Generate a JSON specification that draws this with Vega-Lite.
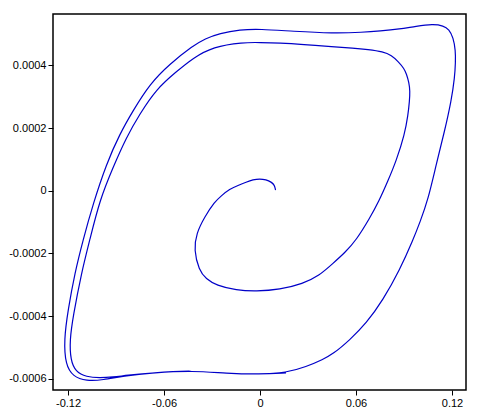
{
  "$schema": "https://vega.github.io/schema/vega-lite/v6.json",
  "width": 413,
  "height": 376,
  "autosize": {"type": "none"},
  "padding": {"left": 53, "top": 14, "right": 15, "bottom": 23},
  "background": "white",
  "config": {
    "view": {"stroke": "black", "strokeWidth": 1.5},
    "axis": {
      "grid": false,
      "domain": false,
      "tickColor": "black",
      "tickSize": 5,
      "tickWidth": 1,
      "labelColor": "black",
      "labelFont": "Liberation Sans",
      "labelFontSize": 11,
      "labelPadding": 2,
      "title": null
    }
  },
  "data": {"values": [
    {"t":1,"x":0.00969,"y":0.0000022},
    {"t":2,"x":0.00906,"y":0.0000182},
    {"t":3,"x":0.00706,"y":0.0000278},
    {"t":4,"x":0.00375,"y":0.0000352},
    {"t":5,"x":-0.00019,"y":0.0000383},
    {"t":6,"x":-0.00438,"y":0.0000352},
    {"t":7,"x":-0.00856,"y":0.0000278},
    {"t":8,"x":-0.01375,"y":0.0000166},
    {"t":9,"x":-0.01894,"y":0.0000054},
    {"t":10,"x":-0.02438,"y":-0.0000169},
    {"t":11,"x":-0.02844,"y":-0.0000361},
    {"t":12,"x":-0.03456,"y":-0.000083},
    {"t":13,"x":-0.03981,"y":-0.000136},
    {"t":14,"x":-0.04131,"y":-0.0001893},
    {"t":15,"x":-0.03819,"y":-0.0002531},
    {"t":16,"x":-0.03375,"y":-0.0002818},
    {"t":17,"x":-0.02731,"y":-0.000302},
    {"t":18,"x":-0.01481,"y":-0.0003179},
    {"t":19,"x":-0.00231,"y":-0.0003211},
    {"t":20,"x":0.01231,"y":-0.0003157},
    {"t":21,"x":0.02688,"y":-0.0002966},
    {"t":22,"x":0.03688,"y":-0.0002716},
    {"t":23,"x":0.04563,"y":-0.0002317},
    {"t":24,"x":0.05313,"y":-0.0001974},
    {"t":25,"x":0.06019,"y":-0.0001574},
    {"t":26,"x":0.06856,"y":-0.000088},
    {"t":27,"x":0.07438,"y":-0.0000329},
    {"t":28,"x":0.08,"y":0.0000319},
    {"t":29,"x":0.08519,"y":0.0000958},
    {"t":30,"x":0.09044,"y":0.000181},
    {"t":31,"x":0.0925,"y":0.0002416},
    {"t":32,"x":0.09344,"y":0.0002867},
    {"t":33,"x":0.09375,"y":0.0003186},
    {"t":34,"x":0.09313,"y":0.0003446},
    {"t":35,"x":0.09156,"y":0.0003724},
    {"t":36,"x":0.09,"y":0.0003904},
    {"t":37,"x":0.08656,"y":0.0004114},
    {"t":38,"x":0.08219,"y":0.0004324},
    {"t":39,"x":0.07688,"y":0.0004437},
    {"t":40,"x":0.0675,"y":0.0004505},
    {"t":41,"x":0.05813,"y":0.0004553},
    {"t":42,"x":0.04563,"y":0.0004597},
    {"t":43,"x":0.02688,"y":0.000467},
    {"t":44,"x":0.01231,"y":0.0004714},
    {"t":45,"x":0.0,"y":0.000473},
    {"t":46,"x":-0.01063,"y":0.0004737},
    {"t":47,"x":-0.02938,"y":0.0004597},
    {"t":48,"x":-0.04188,"y":0.0004234},
    {"t":49,"x":-0.05231,"y":0.0003799},
    {"t":50,"x":-0.06481,"y":0.0003246},
    {"t":51,"x":-0.07519,"y":0.0002448},
    {"t":52,"x":-0.08356,"y":0.0001704},
    {"t":53,"x":-0.09188,"y":0.0000747},
    {"t":54,"x":-0.10019,"y":-0.0000297},
    {"t":55,"x":-0.10644,"y":-0.0001574},
    {"t":56,"x":-0.11169,"y":-0.0002636},
    {"t":57,"x":-0.11688,"y":-0.0004022},
    {"t":58,"x":-0.11894,"y":-0.0004765},
    {"t":59,"x":-0.11844,"y":-0.0005404},
    {"t":60,"x":-0.11531,"y":-0.0005773},
    {"t":61,"x":-0.10856,"y":-0.0005945},
    {"t":62,"x":-0.10019,"y":-0.0005976},
    {"t":63,"x":-0.09188,"y":-0.0005947},
    {"t":64,"x":-0.08356,"y":-0.0005893},
    {"t":65,"x":-0.06688,"y":-0.0005806},
    {"t":66,"x":-0.04188,"y":-0.0005745},
    {"t":67,"x":-0.02106,"y":-0.0005828},
    {"t":68,"x":-0.00019,"y":-0.000586},
    {"t":69,"x":0.01644,"y":-0.0005809},
    {"t":70,"x":0.02894,"y":-0.0005618},
    {"t":71,"x":0.03938,"y":-0.0005381},
    {"t":72,"x":0.04563,"y":-0.0005212},
    {"t":73,"x":0.05606,"y":-0.0004765},
    {"t":74,"x":0.06644,"y":-0.0004232},
    {"t":75,"x":0.07688,"y":-0.0003489},
    {"t":76,"x":0.08731,"y":-0.0002531},
    {"t":77,"x":0.09563,"y":-0.0001574},
    {"t":78,"x":0.1,"y":-0.0000999},
    {"t":79,"x":0.105,"y":-0.0000297},
    {"t":80,"x":0.11019,"y":0.0000852},
    {"t":81,"x":0.11544,"y":0.0001915},
    {"t":82,"x":0.11956,"y":0.0002873},
    {"t":83,"x":0.12169,"y":0.000362},
    {"t":84,"x":0.12219,"y":0.0004108},
    {"t":85,"x":0.12219,"y":0.0004469},
    {"t":86,"x":0.12081,"y":0.0004887},
    {"t":87,"x":0.11813,"y":0.0005145},
    {"t":88,"x":0.11469,"y":0.0005265},
    {"t":89,"x":0.10813,"y":0.0005318},
    {"t":90,"x":0.0975,"y":0.0005251},
    {"t":91,"x":0.08731,"y":0.0005161},
    {"t":92,"x":0.075,"y":0.0005097},
    {"t":93,"x":0.06438,"y":0.0005056},
    {"t":94,"x":0.04563,"y":0.0005024},
    {"t":95,"x":0.02063,"y":0.0005088},
    {"t":96,"x":-0.00019,"y":0.0005161},
    {"t":97,"x":-0.0125,"y":0.0005139},
    {"t":98,"x":-0.02519,"y":0.0005022},
    {"t":99,"x":-0.03438,"y":0.0004852},
    {"t":100,"x":-0.04188,"y":0.0004628},
    {"t":101,"x":-0.05644,"y":0.0004044},
    {"t":102,"x":-0.06894,"y":0.0003406},
    {"t":103,"x":-0.07938,"y":0.0002553},
    {"t":104,"x":-0.08769,"y":0.000181},
    {"t":105,"x":-0.09606,"y":0.0000852},
    {"t":106,"x":-0.10438,"y":-0.0000425},
    {"t":107,"x":-0.11063,"y":-0.0001574},
    {"t":108,"x":-0.11581,"y":-0.0002636},
    {"t":109,"x":-0.12,"y":-0.0003808},
    {"t":110,"x":-0.12256,"y":-0.0004765},
    {"t":111,"x":-0.12156,"y":-0.0005559},
    {"t":112,"x":-0.11688,"y":-0.0005933},
    {"t":113,"x":-0.10856,"y":-0.0006072},
    {"t":114,"x":-0.09813,"y":-0.000604},
    {"t":115,"x":-0.08563,"y":-0.0005915},
    {"t":116,"x":-0.06688,"y":-0.0005806},
    {"t":117,"x":-0.04188,"y":-0.0005745},
    {"t":118,"x":-0.02106,"y":-0.0005828},
    {"t":119,"x":-0.00019,"y":-0.000586},
    {"t":120,"x":0.01625,"y":-0.0005813}
  ]},
  "mark": {"type": "line", "color": "#0000c8", "strokeWidth": 1.2, "interpolate": "basis"},
  "encoding": {
    "order": {"field": "t", "type": "quantitative"},
    "x": {
      "field": "x", "type": "quantitative",
      "scale": {"domain": [-0.1294, 0.12875], "nice": false, "zero": false},
      "axis": {"values": [-0.12, -0.06, 0, 0.06, 0.12], "labelExpr": "replace(format(datum.value, '~g'), '\u2212', '-')"}
    },
    "y": {
      "field": "y", "type": "quantitative",
      "scale": {"domain": [-0.000636, 0.000564], "nice": false, "zero": false},
      "axis": {"values": [-0.0006, -0.0004, -0.0002, 0, 0.0002, 0.0004], "labelExpr": "replace(format(datum.value, '~g'), '\u2212', '-')"}
    }
  }
}
